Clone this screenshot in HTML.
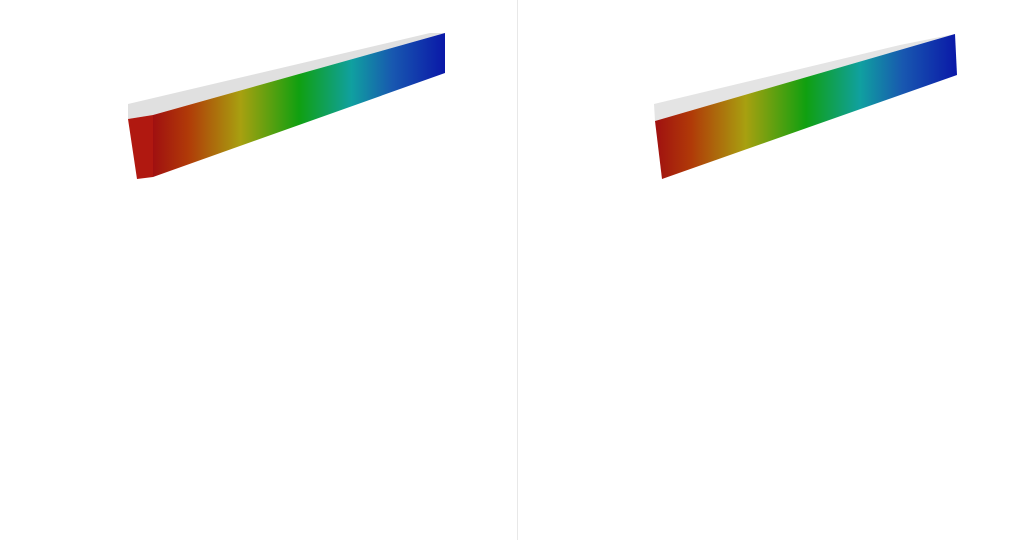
<!DOCTYPE html>
<html><head><meta charset="utf-8"><style>html,body{margin:0;padding:0;background:#fff;width:1035px;height:540px;overflow:hidden}</style></head>
<body>
<svg width="1035" height="540" viewBox="0 0 1035 540">
<defs>
<linearGradient id="g1" x1="153" y1="0" x2="445" y2="0" gradientUnits="userSpaceOnUse">
<stop offset="0" stop-color="#a01010"/><stop offset="0.12" stop-color="#b03a08"/><stop offset="0.3" stop-color="#a8a010"/><stop offset="0.5" stop-color="#10a010"/><stop offset="0.68" stop-color="#10a0a0"/><stop offset="0.82" stop-color="#1858b0"/><stop offset="1" stop-color="#0a18a8"/></linearGradient>
<linearGradient id="g2" x1="655" y1="0" x2="957" y2="0" gradientUnits="userSpaceOnUse">
<stop offset="0" stop-color="#a01010"/><stop offset="0.12" stop-color="#b03a08"/><stop offset="0.3" stop-color="#a8a010"/><stop offset="0.5" stop-color="#10a010"/><stop offset="0.68" stop-color="#10a0a0"/><stop offset="0.82" stop-color="#1858b0"/><stop offset="1" stop-color="#0a18a8"/></linearGradient>
</defs>
<line x1="517.5" y1="0" x2="517.5" y2="540" stroke="#e8e8e8" stroke-width="1"/>
<g>
<polygon points="128,104 430,33 445,33 153,115 128,119" fill="#d8d8d8" opacity="0.8"/>
<polygon points="153,115 445,33 445,73 153,177" fill="url(#g1)"/>
<polygon points="128,119 153,115 153,177 137,179" fill="#b01810"/>
</g>
<g>
<polygon points="654,104 900,45 955,34 655,121" fill="#e4e4e4"/>
<polygon points="655,121 955,34 957,75 662,179" fill="url(#g2)"/>
</g>
</svg>
</body></html>
